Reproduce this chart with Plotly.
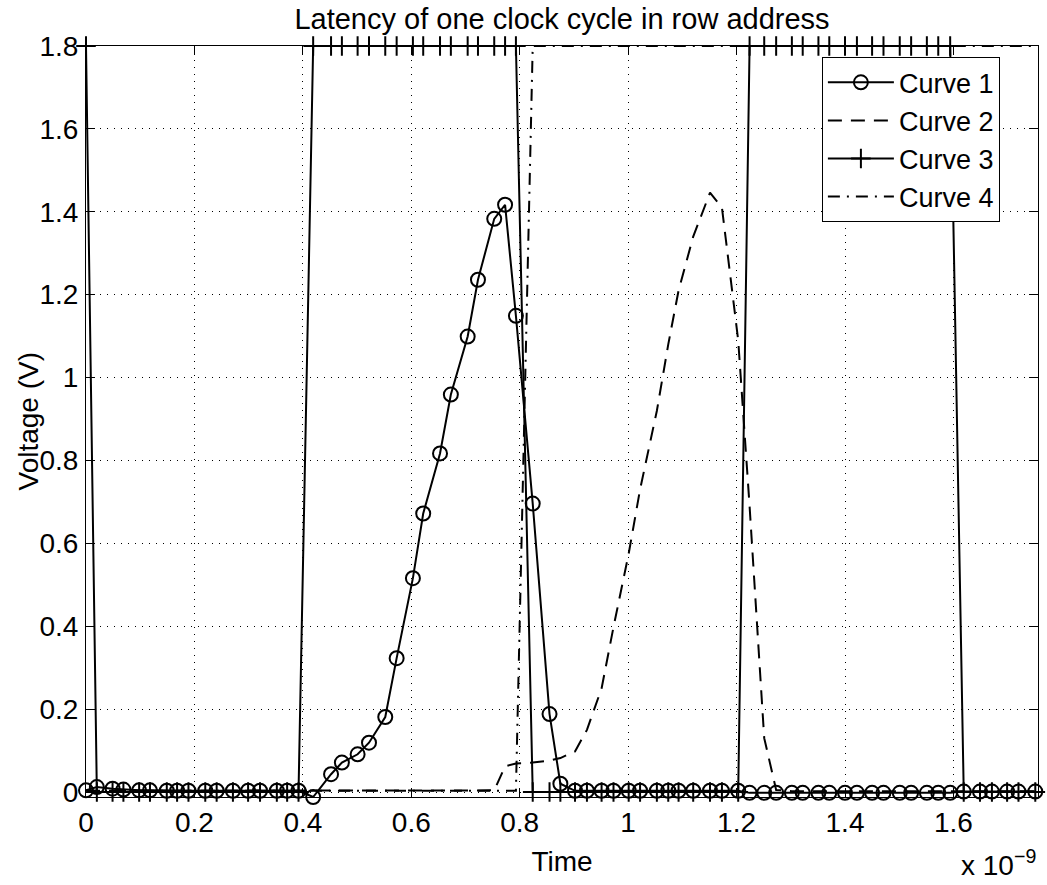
import plotly.graph_objects as go

# time axis in units of 1e-9 s
time_ns = [0.000, 0.020, 0.049, 0.069, 0.098, 0.118, 0.149, 0.168, 0.189, 0.220,
           0.241, 0.271, 0.299, 0.321, 0.352, 0.371, 0.392, 0.419, 0.452, 0.472,
           0.501, 0.522, 0.552, 0.573, 0.603, 0.622, 0.653, 0.673, 0.704, 0.723,
           0.753, 0.773, 0.793, 0.824, 0.855, 0.875, 0.902, 0.924, 0.951, 0.973,
           1.001, 1.022, 1.053, 1.074, 1.093, 1.120, 1.151, 1.173, 1.203, 1.224,
           1.251, 1.273, 1.302, 1.322, 1.351, 1.371, 1.400, 1.422, 1.450, 1.471,
           1.501, 1.522, 1.551, 1.572, 1.594, 1.619, 1.649, 1.671, 1.699, 1.720,
           1.751]

curve1 = [0.004, 0.012, 0.008, 0.006, 0.004, 0.004, 0.003, 0.003, 0.003, 0.003,
          0.003, 0.003, 0.003, 0.003, 0.003, 0.003, 0.003, -0.012, 0.043, 0.071,
          0.091, 0.119, 0.181, 0.323, 0.516, 0.672, 0.817, 0.959, 1.099, 1.236,
          1.383, 1.417, 1.149, 0.696, 0.188, 0.020, 0.003, 0.003, 0.003, 0.003,
          0.003, 0.003, 0.003, 0.003, 0.003, 0.003, 0.003, 0.003, 0.003, -0.002,
          -0.002, -0.002, -0.002, -0.002, -0.002, -0.002, -0.002, -0.002, -0.002, -0.002,
          -0.002, -0.002, -0.002, -0.002, -0.002, 0.001, 0.001, 0.001, 0.001, 0.001,
          0.001]

curve2 = [0.003, 0.003, 0.003, 0.003, 0.003, 0.003, 0.003, 0.003, 0.003, 0.003,
          0.003, 0.003, 0.003, 0.003, 0.003, 0.003, 0.003, 0.003, 0.003, 0.003,
          0.003, 0.003, 0.003, 0.003, 0.003, 0.003, 0.003, 0.003, 0.003, 0.003,
          0.004, 0.062, 0.069, 0.071, 0.076, 0.082, 0.098, 0.150, 0.250, 0.398,
          0.575, 0.730, 0.920, 1.080, 1.210, 1.340, 1.446, 1.410, 1.090, 0.690,
          0.130, 0.005, 0.002, 0.002, 0.002, 0.002, 0.002, 0.002, 0.002, 0.002,
          0.002, 0.002, 0.002, 0.002, 0.002, 0.002, 0.002, 0.002, 0.002, 0.002,
          0.002]

curve3 = [1.8, 0, 0, 0, 0, 0, 0, 0, 0, 0,
          0, 0, 0, 0, 0, 0, 0, 1.8, 1.8, 1.8,
          1.8, 1.8, 1.8, 1.8, 1.8, 1.8, 1.8, 1.8, 1.8, 1.8,
          1.8, 1.8, 1.8, 0, 0, 0, 0, 0, 0, 0,
          0, 0, 0, 0, 0, 0, 0, 0, 0, 1.8,
          1.8, 1.8, 1.8, 1.8, 1.8, 1.8, 1.8, 1.8, 1.8, 1.8,
          1.8, 1.8, 1.8, 1.8, 1.8, 0, 0, 0, 0, 0,
          0]

curve4 = [0.003, 0.003, 0.003, 0.003, 0.003, 0.003, 0.003, 0.003, 0.003, 0.003,
          0.003, 0.003, 0.003, 0.003, 0.003, 0.003, 0.003, 0.003, 0.003, 0.003,
          0.003, 0.003, 0.003, 0.003, 0.003, 0.003, 0.003, 0.003, 0.003, 0.003,
          0.003, 0.003, 0.003, 1.8, 1.8, 1.8, 1.8, 1.8, 1.8, 1.8,
          1.8, 1.8, 1.8, 1.8, 1.8, 1.8, 1.8, 1.8, 1.8, 1.8,
          1.8, 1.8, 1.8, 1.8, 1.8, 1.8, 1.8, 1.8, 1.8, 1.8,
          1.8, 1.8, 1.8, 1.8, 1.8, 1.8, 1.8, 1.8, 1.8, 1.8,
          1.8]

series_names = ["Curve 1", "Curve 2", "Curve 3", "Curve 4"]

x_tick_vals = [0, 0.2, 0.4, 0.6, 0.8, 1.0, 1.2, 1.4, 1.6]
x_tick_text = ["0", "0.2", "0.4", "0.6", "0.8", "1", "1.2", "1.4", "1.6"]
y_tick_vals = [0, 0.2, 0.4, 0.6, 0.8, 1.0, 1.2, 1.4, 1.6, 1.8]
y_tick_text = ["0", "0.2", "0.4", "0.6", "0.8", "1", "1.2", "1.4", "1.6", "1.8"]

FONT = "Liberation Sans, Arial, Helvetica, sans-serif"
BLACK = "#000000"

fig = go.Figure()
fig.add_trace(go.Scatter(
    x=time_ns, y=curve1, name=series_names[0], mode="lines+markers",
    line=dict(color=BLACK, width=2),
    marker=dict(symbol="circle-open", size=14, color=BLACK, line=dict(color=BLACK, width=2)),
    cliponaxis=False))
fig.add_trace(go.Scatter(
    x=time_ns, y=curve2, name=series_names[1], mode="lines",
    line=dict(color=BLACK, width=2, dash="14px,9px"),
    cliponaxis=False))
fig.add_trace(go.Scatter(
    x=time_ns, y=curve3, name=series_names[2], mode="lines+markers",
    line=dict(color=BLACK, width=2),
    marker=dict(symbol="cross-thin-open", size=14, color=BLACK, line=dict(color=BLACK, width=2)),
    cliponaxis=False))
fig.add_trace(go.Scatter(
    x=time_ns, y=curve4, name=series_names[3], mode="lines",
    line=dict(color=BLACK, width=2, dash="12px,7px,2px,7px"),
    cliponaxis=False))

axis_common = dict(
    showline=True, linecolor=BLACK, linewidth=1, mirror="ticks",
    ticks="inside", ticklen=9, tickwidth=1, tickcolor=BLACK,
    showgrid=True, gridcolor=BLACK, gridwidth=1, griddash="1px,6px",
    zeroline=False, tickfont=dict(family=FONT, size=28, color=BLACK),
)

fig.update_xaxes(range=[0, 1.756], tickmode="array", tickvals=x_tick_vals,
                 ticktext=x_tick_text, ticklabelstandoff=0,
                 title=dict(text="Time", font=dict(family=FONT, size=28, color=BLACK), standoff=14),
                 **axis_common)
fig.update_yaxes(range=[-0.012, 1.8], tickmode="array", tickvals=y_tick_vals,
                 ticktext=y_tick_text, ticklabelstandoff=1, **axis_common)

fig.update_layout(
    width=1047, height=885,
    margin=dict(l=86, r=9, t=46, b=88, autoexpand=False),
    paper_bgcolor="white", plot_bgcolor="white",
    font=dict(family=FONT, size=28, color=BLACK),
    title=dict(text="Latency of one clock cycle in row address",
               font=dict(family=FONT, size=29, color=BLACK),
               x=0.5, xref="paper", xanchor="center",
               y=1 - 19 / 885, yref="container", yanchor="middle"),
    legend=dict(x=0.773, y=0.985, xanchor="left", yanchor="top",
                bgcolor="white", bordercolor=BLACK, borderwidth=1,
                font=dict(family=FONT, size=27, color=BLACK),
                itemwidth=66, tracegroupgap=0),
    showlegend=True,
    annotations=[
        dict(text="Voltage (V)", textangle=-90, xref="paper", yref="paper",
             x=-58 / 952, y=0.5, xanchor="center", yanchor="middle", showarrow=False,
             font=dict(family=FONT, size=28, color=BLACK)),
        dict(text="x 10<sup>\u22129</sup>", xref="paper", yref="paper",
             x=1.0, y=-86 / 751, xanchor="right", yanchor="bottom", showarrow=False,
             font=dict(family=FONT, size=28, color=BLACK)),
    ],
)

fig.write_html("out.html")
